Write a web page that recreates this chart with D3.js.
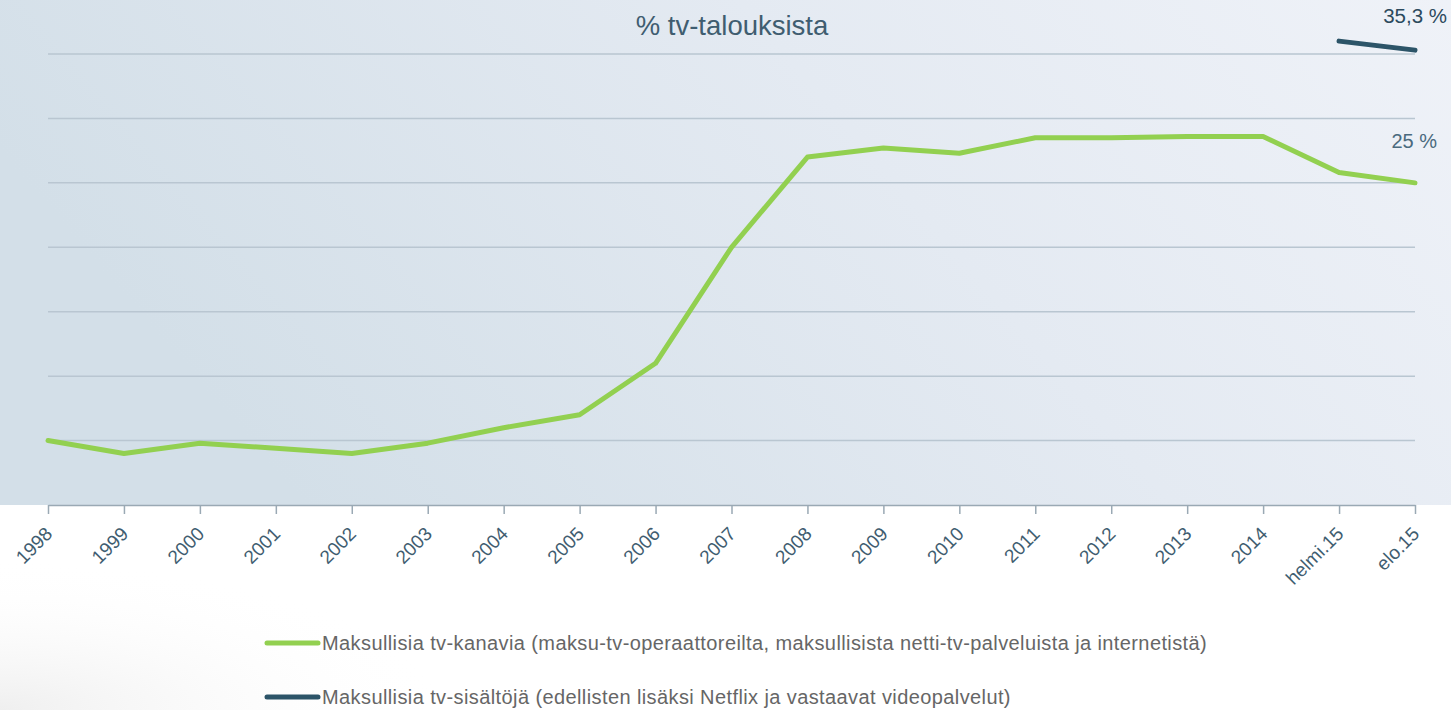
<!DOCTYPE html>
<html>
<head>
<meta charset="utf-8">
<script src="https://cdn.jsdelivr.net/npm/d3@7"></script>
<style>
  html, body { margin: 0; padding: 0; background: #ffffff; }
  svg { display: block; font-family: "Liberation Sans", Arial, sans-serif; }
</style>
</head>
<body>
<svg id="chart" width="1451" height="710"></svg>
<script>
// Categories along the x axis
const categories = ["1998","1999","2000","2001","2002","2003","2004","2005","2006","2007",
  "2008","2009","2010","2011","2012","2013","2014","helmi.15","elo.15"];

// Share of TV households (%) paying for TV channels
const payChannels = [5.0, 4.0, 4.8, 4.4, 4.0, 4.8, 6.0, 7.0, 11.0, 20.0,
  27.0, 27.7, 27.3, 28.5, 28.5, 28.6, 28.6, 25.8, 25.0];

// Share paying for TV content incl. Netflix etc. (last two points only)
const payContentCats = ["helmi.15", "elo.15"];
const payContent = [36.0, 35.3];

const gridValues = [0, 5, 10, 15, 20, 25, 30, 35];

const legendLabels = [
  "Maksullisia tv-kanavia (maksu-tv-operaattoreilta, maksullisista netti-tv-palveluista ja internetistä)",
  "Maksullisia tv-sisältöjä (edellisten lisäksi Netflix ja vastaavat videopalvelut)"
];
const colors = ["#92d050", "#2c5468"];

const svg = d3.select("#chart");
const W = 1451, H = 710;

const defs = svg.append("defs");
const bg = defs.append("linearGradient").attr("id", "bg").attr("x1", "0").attr("x2", "1").attr("y1", "0.3").attr("y2", "0");
bg.append("stop").attr("offset", "0").attr("stop-color", "#d3dfe8");
bg.append("stop").attr("offset", "0.55").attr("stop-color", "#e4eaf2");
bg.append("stop").attr("offset", "1").attr("stop-color", "#eff2f8");

// faint grey haze in the lower-left corner
const shade = defs.append("radialGradient").attr("id", "shade")
  .attr("cx", "0").attr("cy", "1").attr("r", "1");
shade.append("stop").attr("offset", "0").attr("stop-color", "#efefef").attr("stop-opacity", 1);
shade.append("stop").attr("offset", "1").attr("stop-color", "#ffffff").attr("stop-opacity", 0);
svg.append("rect").attr("x", 0).attr("y", 560).attr("width", 450).attr("height", 150).attr("fill", "url(#shade)");

const baseY = 505;
svg.append("rect").attr("x", 0).attr("y", 0).attr("width", W).attr("height", baseY).attr("fill", "url(#bg)");

const x = d3.scalePoint().domain(categories).range([48, 1415]);
const y = d3.scaleLinear().domain([0, 35]).range([505, 54]);

// horizontal gridlines
svg.append("g").selectAll("line").data(gridValues.filter(v => v > 0)).join("line")
  .attr("x1", 48).attr("x2", 1415)
  .attr("y1", d => y(d)).attr("y2", d => y(d))
  .attr("stroke", "#b9c6d1").attr("stroke-width", 1.5);

// x axis
const xAxis = svg.append("g").attr("transform", `translate(0,${y(0)})`)
  .call(d3.axisBottom(x).tickSize(9).tickSizeOuter(0).tickPadding(6));
xAxis.select(".domain").attr("stroke", "#9aa9b4").attr("stroke-width", 1.5);
xAxis.selectAll(".tick line").attr("stroke", "#9aa9b4").attr("stroke-width", 1.5);
xAxis.selectAll(".tick text")
  .attr("font-size", 19)
  .attr("fill", "#3f5d70")
  .attr("text-anchor", "end")
  .attr("x", 0).attr("y", 0)
  .attr("dy", "0.75em")
  .attr("transform", "translate(-5,20) rotate(-45)");

// lines
const line = d3.line().x(d => x(d.c)).y(d => y(d.v));
svg.append("path")
  .datum(categories.map((c, i) => ({ c, v: payChannels[i] })))
  .attr("d", line).attr("fill", "none")
  .attr("stroke", colors[0]).attr("stroke-width", 5)
  .attr("stroke-linejoin", "round").attr("stroke-linecap", "round");

svg.append("path")
  .datum(payContentCats.map((c, i) => ({ c, v: payContent[i] })))
  .attr("d", line).attr("fill", "none")
  .attr("stroke", colors[1]).attr("stroke-width", 5)
  .attr("stroke-linecap", "round");

// value labels
svg.append("text").attr("x", 1447).attr("y", 23).attr("text-anchor", "end")
  .attr("font-size", 20.5).attr("fill", "#2c4a5d")
  .text(String(payContent[1]).replace(".", ",") + " %");
svg.append("text").attr("x", 1437).attr("y", 148).attr("text-anchor", "end")
  .attr("font-size", 20).attr("fill", "#4a6a7e")
  .text(String(payChannels[payChannels.length - 1]).replace(".", ",") + " %");

// title
svg.append("text").attr("x", 732).attr("y", 35).attr("text-anchor", "middle")
  .attr("font-size", 27.5).attr("fill", "#3f5d70").text("% tv-talouksista");

// legend
const lg = svg.append("g");
legendLabels.forEach((t, i) => {
  const yy = 643 + i * 54;
  lg.append("line").attr("x1", 267).attr("x2", 318).attr("y1", yy).attr("y2", yy)
    .attr("stroke", colors[i]).attr("stroke-width", 5).attr("stroke-linecap", "round");
  lg.append("text").attr("x", 322).attr("y", yy + 7).attr("font-size", 20)
    .attr("letter-spacing", 0.4)
    .attr("fill", "#666666").text(t);
});
</script>
</body>
</html>
